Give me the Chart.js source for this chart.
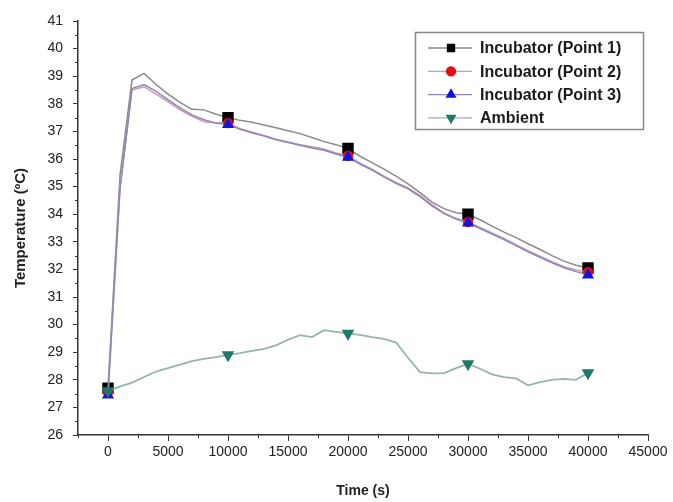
<!DOCTYPE html>
<html>
<head>
<meta charset="utf-8">
<script src="https://cdn.jsdelivr.net/npm/chart.js@4.4.1/dist/chart.umd.min.js"></script>
<style>
  html, body { margin: 0; padding: 0; background: #fff; }
  #wrap { width: 673px; height: 502px; }
</style>
</head>
<body>
<div id="wrap"><canvas id="tempChart" width="673" height="502"></canvas></div>
<script>
// time samples (s)
const times = [0, 1000, 2000, 3000, 4000, 5000, 6000, 7000, 8000, 9000,
    10000, 11000, 12000, 13000, 14000, 15000, 16000, 17000, 18000, 19000,
    20000, 21000, 22000, 23000, 24000, 25000, 26000, 27000, 28000, 29000,
    30000, 31000, 32000, 33000, 34000, 35000, 36000, 37000, 38000, 39000, 40000];

const point1 = [27.7, 35.4, 38.86, 39.1, 38.7, 38.35, 38.05, 37.8, 37.78, 37.62,
    37.5, 37.4, 37.33, 37.23, 37.13, 37.02, 36.92, 36.78, 36.63, 36.52,
    36.38, 36.1, 35.87, 35.63, 35.38, 35.1, 34.78, 34.44, 34.2, 34.05,
    34.0, 33.8, 33.57, 33.35, 33.15, 32.93, 32.72, 32.5, 32.3, 32.15, 32.05];

const point2 = [27.55, 35.0, 38.5, 38.62, 38.35, 38.08, 37.78, 37.55, 37.35, 37.3,
    37.3, 37.1, 36.97, 36.85, 36.72, 36.62, 36.52, 36.44, 36.36, 36.22,
    36.12, 35.85, 35.63, 35.38, 35.15, 34.95, 34.68, 34.35, 34.05, 33.85,
    33.72, 33.52, 33.32, 33.12, 32.9, 32.68, 32.48, 32.28, 32.1, 31.98, 31.9];

const point3 = [27.45, 34.9, 38.55, 38.7, 38.45, 38.15, 37.85, 37.6, 37.42, 37.3,
    37.25, 37.08, 36.95, 36.83, 36.7, 36.6, 36.5, 36.4, 36.32, 36.18,
    36.06, 35.82, 35.6, 35.35, 35.12, 34.92, 34.64, 34.3, 34.02, 33.82,
    33.68, 33.48, 33.28, 33.08, 32.86, 32.64, 32.44, 32.24, 32.06, 31.92, 31.8];

const ambient = [27.6, 27.75, 27.9, 28.1, 28.3, 28.42, 28.55, 28.68, 28.76, 28.82,
    28.9, 28.97, 29.05, 29.12, 29.25, 29.45, 29.62, 29.55, 29.8, 29.74,
    29.68, 29.63, 29.55, 29.48, 29.35, 28.8, 28.28, 28.23, 28.24, 28.42,
    28.58, 28.4, 28.2, 28.1, 28.05, 27.8, 27.92, 28.0, 28.03, 28.0, 28.25];

const xTicks = [0, 5000, 10000, 15000, 20000, 25000, 30000, 35000, 40000, 45000];
const yTicks = [26, 27, 28, 29, 30, 31, 32, 33, 34, 35, 36, 37, 38, 39, 40, 41];

const FONT = '"Liberation Sans", Arial, sans-serif';

function toXY(values) {
    return times.map((t, i) => ({x: t, y: values[i]}));
}

// markers only every 10000 s
function markerRadius(r) {
    return ctx => (ctx.raw && ctx.raw.x % 10000 === 0) ? r : 0;
}

// minor ticks for both axes
const minorTicks = {
    id: 'minorTicks',
    afterDraw(chart) {
        const ctx = chart.ctx;
        const xs = chart.scales.x, ys = chart.scales.y;
        ctx.save();
        ctx.strokeStyle = '#333';
        ctx.lineWidth = 1;
        ctx.beginPath();
        for (let v = -2500; v <= 45000; v += 5000) {
            const px = Math.round(xs.getPixelForValue(v)) + 0.5;
            ctx.moveTo(px, xs.top);
            ctx.lineTo(px, xs.top + 3);
        }
        for (let v = 26.5; v < 41; v += 1) {
            const py = Math.round(ys.getPixelForValue(v)) + 0.5;
            ctx.moveTo(ys.right, py);
            ctx.lineTo(ys.right - 3, py);
        }
        ctx.stroke();
        ctx.restore();
    }
};

// boxed legend with line-marker-line samples
const boxLegend = {
    id: 'boxLegend',
    afterDraw(chart) {
        const ctx = chart.ctx;
        const left = 415, top = 32, w = 228, h = 97;
        ctx.save();
        ctx.fillStyle = 'rgba(255,255,255,0.9)';
        ctx.fillRect(left, top, w, h);
        ctx.strokeStyle = '#888';
        ctx.lineWidth = 1.5;
        ctx.strokeRect(left + 0.5, top + 0.5, w, h);
        ctx.font = 'bold 16px ' + FONT;
        ctx.textBaseline = 'middle';
        chart.data.datasets.forEach((ds, i) => {
            const y = 48 + i * 23.3;
            ctx.strokeStyle = ds.borderColor;
            ctx.lineWidth = 1.3;
            ctx.beginPath();
            ctx.moveTo(428, y);
            ctx.lineTo(472, y);
            ctx.stroke();
            ctx.fillStyle = ds.pointBackgroundColor;
            ctx.strokeStyle = ds.pointBorderColor;
            Chart.helpers.drawPoint(ctx, {
                pointStyle: ds.pointStyle,
                radius: ds.legendRadius,
                rotation: ds.pointRotation || 0,
                borderWidth: 1
            }, 451, y);
            ctx.fillStyle = '#1a1a1a';
            ctx.fillText(ds.label, 480, y + 1);
        });
        ctx.restore();
    }
};

new Chart(document.getElementById('tempChart'), {
    type: 'line',
    data: {
        datasets: [{
            label: 'Incubator (Point 1)',
            data: toXY(point1),
            borderColor: '#8a8a8a',
            borderWidth: 1.5,
            pointStyle: 'rect',
            pointRadius: markerRadius(7),
            legendRadius: 5,
            pointBackgroundColor: '#000',
            pointBorderColor: '#000',
            order: 3
        }, {
            label: 'Incubator (Point 2)',
            data: toXY(point2),
            borderColor: '#c99cb4',
            borderWidth: 1.5,
            pointStyle: 'circle',
            pointRadius: markerRadius(4.5),
            legendRadius: 4.5,
            pointBackgroundColor: '#e01010',
            pointBorderColor: '#e01010',
            order: 2
        }, {
            label: 'Incubator (Point 3)',
            data: toXY(point3),
            borderColor: '#8e86b4',
            borderWidth: 1.5,
            pointStyle: 'triangle',
            pointRadius: markerRadius(5.5),
            legendRadius: 5,
            pointBackgroundColor: '#1414d8',
            pointBorderColor: '#1414d8',
            order: 1
        }, {
            label: 'Ambient',
            data: toXY(ambient),
            borderColor: '#98b4a6',
            borderWidth: 1.8,
            pointStyle: 'triangle',
            pointRotation: 180,
            pointRadius: markerRadius(5.5),
            legendRadius: 5,
            pointBackgroundColor: '#1d7a6a',
            pointBorderColor: '#1d7a6a',
            order: 0
        }]
    },
    options: {
        responsive: false,
        animation: false,
        layout: {padding: {left: 0, right: 25, top: 21, bottom: 0}},
        plugins: {legend: {display: false}, tooltip: {enabled: false}},
        elements: {line: {tension: 0}},
        scales: {
            x: {
                type: 'linear',
                min: -2500,
                max: 45000,
                afterBuildTicks: s => { s.ticks = xTicks.map(v => ({value: v})); },
                afterFit: s => { s.height = 67; },
                border: {color: '#333', width: 1.5},
                grid: {drawOnChartArea: false, drawTicks: true, tickLength: 6, color: '#333'},
                ticks: {
                    color: '#222',
                    font: {size: 14, family: FONT},
                    padding: 3,
                    maxRotation: 0,
                    callback: v => String(v)
                },
                title: {
                    display: true,
                    text: 'Time (s)',
                    color: '#222',
                    font: {size: 14, weight: 'bold', family: FONT},
                    padding: {top: 4, bottom: 2}
                }
            },
            y: {
                type: 'linear',
                min: 26,
                max: 41,
                afterBuildTicks: s => { s.ticks = yTicks.map(v => ({value: v})); },
                afterFit: s => { s.width = 78; },
                border: {color: '#333', width: 1.5},
                grid: {drawOnChartArea: false, drawTicks: true, tickLength: 5, color: '#333'},
                ticks: {
                    color: '#222',
                    font: {size: 14, family: FONT},
                    padding: 10,
                    callback: v => String(v)
                },
                title: {
                    display: true,
                    text: 'Temperature (ºC)',
                    color: '#222',
                    font: {size: 15, weight: 'bold', family: FONT},
                    padding: {top: 12, bottom: 0}
                }
            }
        }
    },
    plugins: [minorTicks, boxLegend]
});
</script>
</body>
</html>
